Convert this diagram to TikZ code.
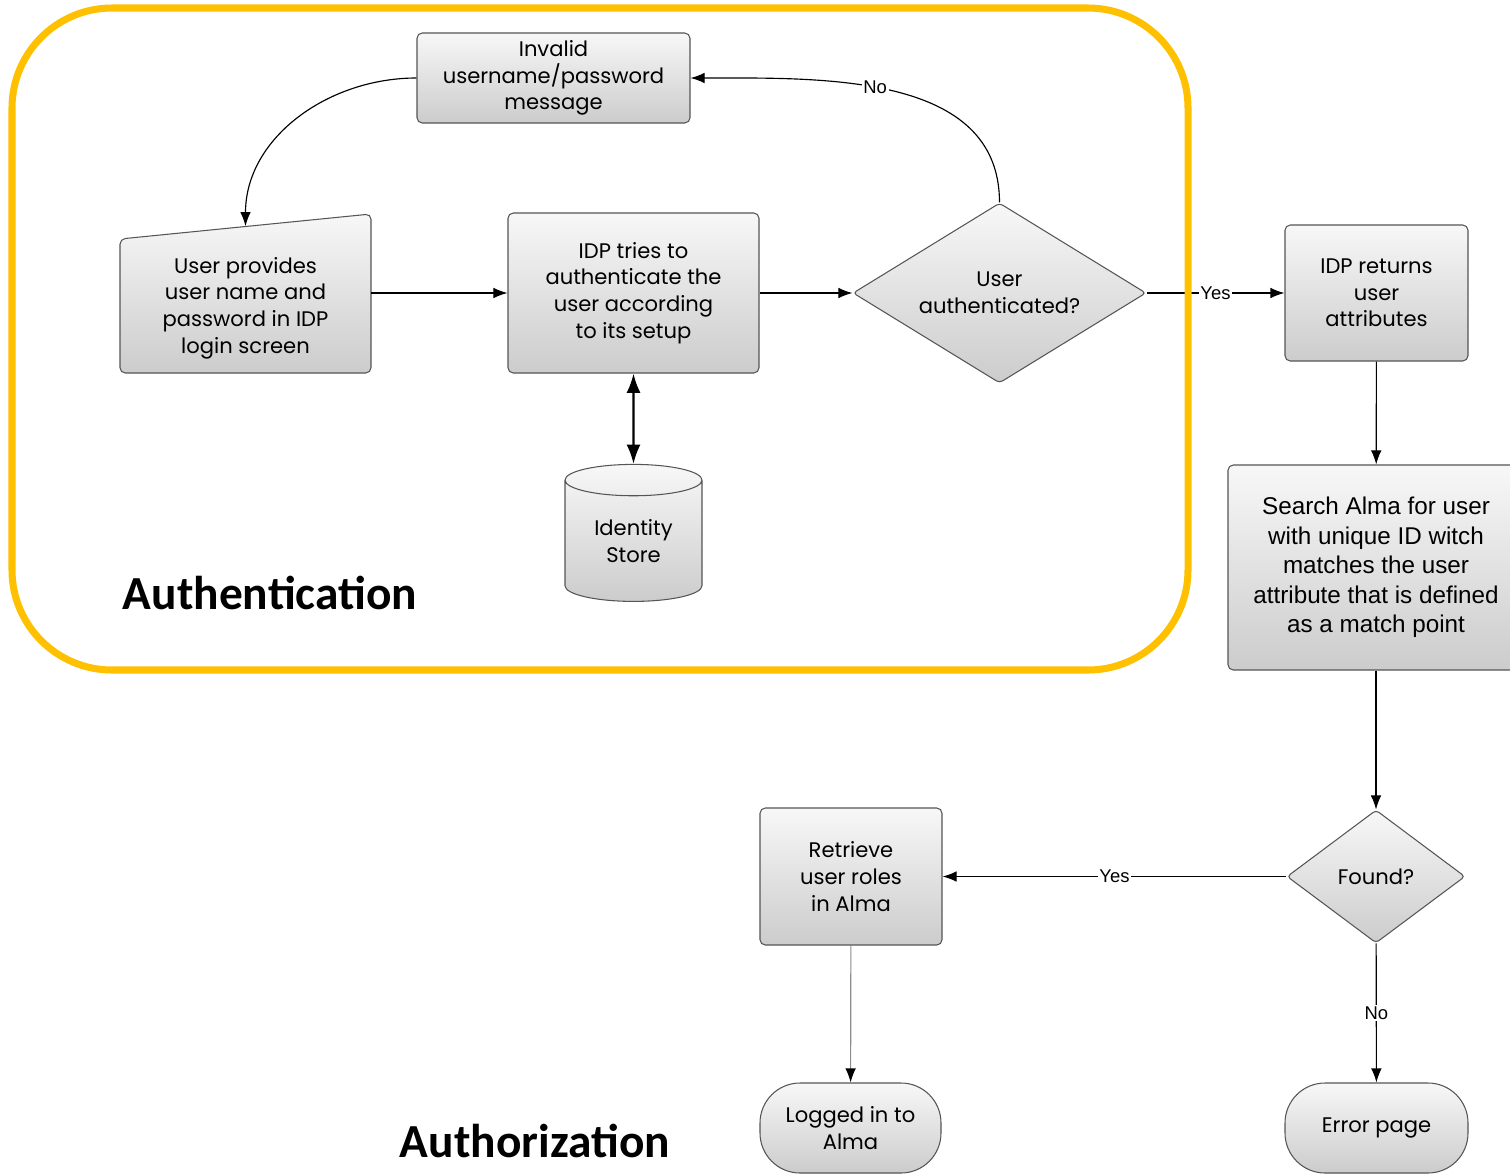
\documentclass[tikz,border=0pt]{standalone}
\usepackage{fontspec}
\setmainfont{Poppins}
\newfontfamily\arialfont{Liberation Sans}
\newfontfamily\calibrifont{Carlito}
\usetikzlibrary{arrows.meta,shapes.geometric}
\definecolor{frameyellow}{HTML}{FFC000}
\definecolor{boxline}{HTML}{555555}
\newcommand\pxu{0.02cm}
\tikzset{
  boxfill/.style={top color=black!3, bottom color=black!20},
  flowbox/.style={boxfill, draw=boxline, line width=0.6pt, rounded corners=3pt,
    align=center, inner sep=0pt, font=\fontsize{12}{15.2}\selectfont},
  decision/.style={flowbox, diamond, rounded corners=2pt},
  terminal/.style={flowbox, rounded corners=40*\pxu},
  store/.style={flowbox, cylinder, shape border rotate=90, aspect=0.4,
    rounded corners=0pt},
  arrow/.style={line width=0.65pt, -{Latex[length=8pt,width=6pt]}},
  dblarrow/.style={line width=1.3pt, {Latex[length=11pt,width=8pt]}-{Latex[length=11pt,width=8pt]}},
  lbl/.style={fill=white, inner sep=1pt, font=\arialfont\fontsize{10.5}{12}\selectfont},
  title/.style={font=\calibrifont\bfseries\fontsize{27}{30}\selectfont},
}
\begin{document}
\begin{tikzpicture}[x=0.02cm, y=-0.02cm]
  \useasboundingbox (0,0) rectangle (1510,1173);
  % authentication part
  \node[flowbox, minimum width=273*\pxu, minimum height=90*\pxu] (invalid) at (553.5,78)
    {Invalid\\username/password\\message};
  \shade[boxfill, draw=boxline, line width=0.6pt, rounded corners=3pt]
    (120,373) -- (120,239) -- (371,214) -- (371,373) -- cycle;
  \node[align=center, inner sep=0pt, font=\fontsize{12}{15.2}\selectfont,
    minimum width=251*\pxu, minimum height=134*\pxu] (provide) at (245.5,308)
    {User provides\\user name and\\password in IDP\\login screen};
  \coordinate (providetop) at ([yshift=14.5*\pxu]provide.north);
  \node[flowbox, minimum width=251*\pxu, minimum height=160*\pxu] (idp) at (633.5,293)
    {IDP tries to\\authenticate the\\user according\\to its setup};
  \node[decision, aspect=1.63, minimum width=293*\pxu, minimum height=180*\pxu] (auth) at (999.5,293)
    {User\\authenticated?};
  \node[store, minimum width=137*\pxu, minimum height=137*\pxu] (store) at (633.5,541)
    {Identity\\Store};
  % authorization part
  \node[flowbox, minimum width=183*\pxu, minimum height=136*\pxu] (returns) at (1376.5,293)
    {IDP returns\\user\\attributes};
  \node[flowbox, font=\arialfont\fontsize{13.8}{16.8}\selectfont,
    minimum width=296*\pxu, minimum height=205*\pxu] (search) at (1376,567.5)
    {Search Alma for user\\with unique ID witch\\matches the user\\attribute that is defined\\as a match point};
  \node[decision, aspect=1.34, minimum width=178*\pxu, minimum height=133*\pxu] (found) at (1376,876.5)
    {Found?};
  \node[flowbox, minimum width=182*\pxu, minimum height=137*\pxu] (retrieve) at (851,876.5)
    {Retrieve\\user roles\\in Alma};
  \node[terminal, minimum width=181*\pxu, minimum height=90*\pxu] (logged) at (850.5,1128)
    {Logged in to\\Alma};
  \node[terminal, minimum width=183*\pxu, minimum height=90*\pxu] (error) at (1376.5,1128)
    {Error page};
  % connectors
  \draw[arrow] (invalid.west) to[out=180,in=90] (providetop);
  \draw[arrow] (idp.west -| provide.east) -- (idp.west);
  \draw[arrow] (idp) -- (auth);
  \draw[arrow] (auth.north) to[out=90,in=0] node[lbl,pos=0.55]{No} (invalid.east);
  \draw[arrow] (auth) -- node[lbl]{Yes} (returns);
  \draw[dblarrow] (idp) -- (store);
  \draw[arrow] (returns) -- (search);
  \draw[arrow] (search) -- (found);
  \draw[arrow] (found) -- node[lbl]{Yes} (retrieve);
  \draw[arrow] (found) -- node[lbl]{No} (error);
  \draw[arrow, draw=black!45, -{Latex[length=8pt,width=6pt,color=black]}] (retrieve) -- (logged);
  % frame and titles
  \draw[frameyellow, line width=4pt, rounded corners=2cm] (12,8) rectangle (1188,670);
  \node[title] (authn) at (270,593) {Authentication};
  \node[title] (authz) at (535,1141) {Authorization};
\end{tikzpicture}
\end{document}
